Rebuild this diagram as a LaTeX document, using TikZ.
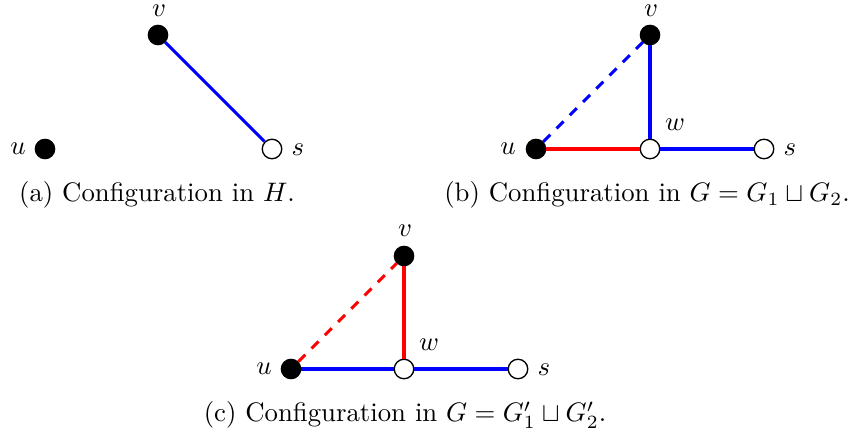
\documentclass[tikz,border=0pt]{standalone}
\usepackage{amssymb}
\begin{document}
\begin{tikzpicture}[x=0.3737pt,y=-0.3737pt,
  blk/.style={circle,draw=black,fill=black,minimum size=7.3pt,inner sep=0pt},
  wht/.style={circle,draw=black,fill=white,line width=0.5pt,minimum size=7.3pt,inner sep=0pt},
  lbl/.style={inner sep=0pt},
  bedge/.style={draw=blue,line width=1.15pt},
  redge/.style={draw=red,line width=1.15pt},
  dedge/.style={line width=1.15pt,dash pattern=on 3.7pt off 3.3pt}]
\useasboundingbox (0,0) rectangle (851,439);
% (a)
\node[blk] (av) at (158,35) {};
\node[blk] (au) at (45,149) {};
\node[wht] (as) at (272,149) {};
\node[lbl] (avl) at (159,10.5) {$v$};
\node[lbl] (aul) at (18,149) {$u$};
\node[lbl] (asl) at (298,150) {$s$};
\draw[bedge] (av) -- (as);
\node[lbl] (capa) at (157,195) {(a) Configuration in $H$.};
% (b)
\node[blk] (bv) at (650,35) {};
\node[blk] (bu) at (536,149) {};
\node[wht] (bw) at (650,149) {};
\node[wht] (bs) at (764,149) {};
\node[lbl] (bvl) at (651,10.5) {$v$};
\node[lbl] (bul) at (508,149) {$u$};
\node[lbl] (bwl) at (675,125) {$w$};
\node[lbl] (bsl) at (790,150) {$s$};
\draw[redge] (bu) -- (bw);
\draw[bedge] (bw) -- (bs);
\draw[bedge] (bv) -- (bw);
\draw[dedge,draw=blue] (bu) -- (bv);
\node[lbl] (capb) at (647,195) {(b) Configuration in $G = G_1 \sqcup G_2$.};
% (c)
\node[blk] (cv) at (404,256) {};
\node[blk] (cu) at (291,369) {};
\node[wht] (cw) at (404,369) {};
\node[wht] (cs) at (518,369) {};
\node[lbl] (cvl) at (405,231) {$v$};
\node[lbl] (cul) at (264,369) {$u$};
\node[lbl] (cwl) at (429,345) {$w$};
\node[lbl] (csl) at (544,370) {$s$};
\draw[bedge] (cu) -- (cw);
\draw[bedge] (cw) -- (cs);
\draw[redge] (cv) -- (cw);
\draw[dedge,draw=red] (cu) -- (cv);
\node[lbl] (capc) at (405,415) {(c) Configuration in $G = G_1' \sqcup G_2'$.};
\end{tikzpicture}
\end{document}
